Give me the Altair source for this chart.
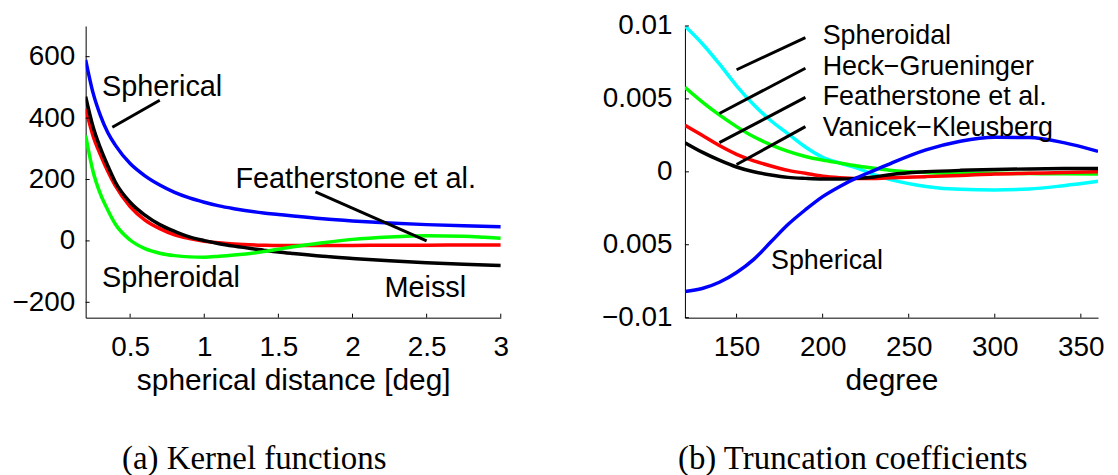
import altair as alt
import pandas as pd

# ---------------- Panel (a): kernel functions ----------------
psi = [0.2, 0.25, 0.3, 0.35, 0.4, 0.5, 0.6, 0.7, 0.8, 0.9, 1.0, 1.1, 1.2, 1.4, 1.5, 1.6, 1.8, 2.0, 2.25, 2.5, 2.75, 3.0]
k_spherical = [590, 482, 408, 352, 312, 252, 212, 182, 158, 140, 126, 114, 105, 91, 86, 81, 72, 65, 58, 53, 49, 46]
k_featherstone = [430, 342, 280, 226, 180, 112, 68, 40, 20, 8, -1, -6, -10, -14, -15, -15, -15, -15, -14, -14, -13, -13]
k_meissl = [470, 372, 302, 244, 192, 126, 84, 53, 31, 13, 1, -9, -17, -30, -36, -41, -50, -57, -65, -71, -76, -80]
k_spheroidal = [343, 226, 152, 100, 55, 3, -25, -40, -48, -52, -53, -50, -46, -35, -27, -19, -6, 5, 13, 17, 15, 9]

xticks_a = [0.5, 1, 1.5, 2, 2.5, 3]
yticks_a = [-200, 0, 200, 400, 600]

labels_a = ["Spherical", "Featherstone et al.", "Spheroidal", "Meissl"]
labels_a_x = [0.31, 1.21, 0.31, 2.215]
labels_a_y = [500, 200, -121, -152]
pointer_a_x1 = [0.38, 1.75]
pointer_a_y1 = [370, 160]
pointer_a_x2 = [0.70, 2.5]
pointer_a_y2 = [458, 0]

# ---------------- Panel (b): truncation coefficients ----------------
deg = [120, 130, 140, 150, 160, 170, 180, 190, 200, 210, 220, 230, 240, 260, 280, 300, 320, 340, 360]
t_heck = [0.0100, 0.0088, 0.0074, 0.0059, 0.0046, 0.0035, 0.0026, 0.0017, 0.0010, 0.0006, 0.00025,
          -0.0002, -0.00055, -0.0010, -0.0012, -0.00124, -0.00118, -0.00095, -0.00065]
t_spherical = [-0.0082, -0.0080, -0.00757, -0.0069, -0.0060, -0.0048, -0.0036, -0.0026, -0.0017, -0.0010,
               -0.0004, 0.0001, 0.0006, 0.0015, 0.0021, 0.00237, 0.00235, 0.0020, 0.0014]
t_spheroidal = [0.0058, 0.0048, 0.0039, 0.0031, 0.0024, 0.00185, 0.0014, 0.00105, 0.0008, 0.0006, 0.0004,
                0.00025, 0.0001, -0.00004, -0.0001, -0.0001, -0.00012, -0.00014, -0.00015]
t_featherstone = [0.0032, 0.0025, 0.0018, 0.0012, 0.00075, 0.0004, 0.0001, -0.0001, -0.0003, -0.0004,
                  -0.00045, -0.00045, -0.0004, -0.00033, -0.00025, -0.00015, -0.0001, -0.00005, 0.0]
t_vanicek = [0.0020, 0.00135, 0.0008, 0.00033, 0.0, -0.00022, -0.00038, -0.00045, -0.00049, -0.00049,
             -0.00045, -0.00035, -0.00018, 0.0, 0.0001, 0.00016, 0.0002, 0.00022, 0.00022]

xticks_b = [150, 200, 250, 300, 350]
yticks_b = [-0.01, -0.005, 0, 0.005, 0.01]
ytick_labels_b = ["\u22120.01", "0.005", "0", "0.005", "0.01"]

labels_b = ["Spheroidal", "Heck\u2212Grueninger", "Featherstone et al.", "Vanicek\u2212Kleusberg", "Spherical"]
labels_b_x = [200, 200, 200, 200, 170]
labels_b_y = [0.0093, 0.0072, 0.0051, 0.0030, -0.0061]
pointer_b_x1 = [150, 140, 140, 150]
pointer_b_y1 = [0.0070, 0.0040, 0.0020, 0.0005]
pointer_b_x2 = [190, 190, 190, 190]
pointer_b_y2 = [0.0092, 0.0071, 0.0051, 0.0031]

SANS = "Liberation Sans"
SERIF = "Liberation Serif"

W_A, W_B, H = 417, 415, 293

# ---------------- encodings ----------------
axis_xa = alt.Axis(values=xticks_a, format="~g", title="spherical distance [deg]", ticks=False,
                   labelPadding=16, titlePadding=4, grid=False, labelFlush=False)
axis_ya = alt.Axis(values=yticks_a, format="d", title=None, ticks=False, labelPadding=11, grid=False)
scale_xa = alt.Scale(domain=[0.2, 3], nice=False, zero=False)
scale_ya = alt.Scale(domain=[-250, 700], nice=False, zero=False)


def xa(f):
    return alt.X(f, type="quantitative", scale=scale_xa, axis=axis_xa)


def ya(f):
    return alt.Y(f, type="quantitative", scale=scale_ya, axis=axis_ya)


label_expr_b = " : ".join(
    [f"abs(datum.value - ({v})) < 1e-9 ? '{l}'" for v, l in zip(yticks_b, ytick_labels_b)]
) + " : ''"
axis_xb = alt.Axis(values=xticks_b, format="d", title="degree", ticks=False,
                   labelPadding=16, titlePadding=4, grid=False, labelFlush=False)
axis_yb = alt.Axis(values=yticks_b, labelExpr=label_expr_b, title=None, ticks=False, labelPadding=13, grid=False)
scale_xb = alt.Scale(domain=[120, 360], nice=False, zero=False)
scale_yb = alt.Scale(domain=[-0.01, 0.01], nice=False, zero=False)


def xb(f):
    return alt.X(f, type="quantitative", scale=scale_xb, axis=axis_xb)


def yb(f):
    return alt.Y(f, type="quantitative", scale=scale_yb, axis=axis_yb)


def curve(xs, ys, color, xe, ye):
    df = pd.DataFrame({"x": xs, "y": ys})
    return alt.Chart(df).mark_line(color=color, strokeWidth=3.5, interpolate="monotone", clip=True).encode(
        x=xe("x"), y=ye("y"))


def pointers(x1, y1, x2, y2, xe, ye):
    df = pd.DataFrame({"x1": x1, "y1": y1, "x2": x2, "y2": y2})
    return alt.Chart(df).mark_rule(color="black", strokeWidth=3).encode(
        x=xe("x1"), y=ye("y1"), x2=alt.X2("x2"), y2=alt.Y2("y2"))


def labels(txt, xs, ys, xe, ye, size):
    df = pd.DataFrame({"label": txt, "x": xs, "y": ys})
    return alt.Chart(df).mark_text(align="left", baseline="middle", font=SANS, fontSize=size,
                                   color="black").encode(x=xe("x"), y=ye("y"), text="label:N")


def inner_ticks(xt, yt, xe, ye, h):
    tx = alt.Chart(pd.DataFrame({"t": xt})).mark_rule(color="black", strokeWidth=1).encode(
        x=xe("t"), y=alt.value(h), y2=alt.value(h - 4))
    ty = alt.Chart(pd.DataFrame({"t": yt})).mark_rule(color="black", strokeWidth=1).encode(
        y=ye("t"), x=alt.value(0), x2=alt.value(4))
    return [tx, ty]


left = alt.layer(
    curve(psi, k_spherical, "#0000ff", xa, ya),
    curve(psi, k_featherstone, "#ff0000", xa, ya),
    curve(psi, k_meissl, "#000000", xa, ya),
    curve(psi, k_spheroidal, "#00ff00", xa, ya),
    pointers(pointer_a_x1, pointer_a_y1, pointer_a_x2, pointer_a_y2, xa, ya),
    labels(labels_a, labels_a_x, labels_a_y, xa, ya, 29),
    *inner_ticks(xticks_a, yticks_a, xa, ya, H),
).properties(
    width=W_A, height=H,
    title=alt.TitleParams(text="(a) Kernel functions", orient="bottom", anchor="middle", frame="bounds",
                          offset=48, font=SERIF, fontSize=33, fontWeight="normal", color="black", dx=-6),
)

right = alt.layer(
    curve(deg, t_heck, "#00ffff", xb, yb),
    curve(deg, t_spheroidal, "#00ff00", xb, yb),
    curve(deg, t_featherstone, "#ff0000", xb, yb),
    curve(deg, t_vanicek, "#000000", xb, yb),
    curve(deg, t_spherical, "#0000ff", xb, yb),
    pointers(pointer_b_x1, pointer_b_y1, pointer_b_x2, pointer_b_y2, xb, yb),
    labels(labels_b, labels_b_x, labels_b_y, xb, yb, 27),
    *inner_ticks(xticks_b, yticks_b, xb, yb, H),
).properties(
    width=W_B, height=H,
    title=alt.TitleParams(text="(b) Truncation coefficients", orient="bottom", anchor="middle", frame="bounds",
                          offset=48, font=SERIF, fontSize=33, fontWeight="normal", color="black"),
)

chart = alt.hconcat(left, right, spacing=185, bounds="flush").properties(
    padding={"left": 3, "top": 3, "right": 5, "bottom": 0},
    background="white",
).configure_view(stroke=None).configure_axis(
    labelFont=SANS, labelFontSize=28, labelColor="black",
    titleFont=SANS, titleFontSize=30, titleFontWeight="normal", titleColor="black",
    domainColor="black", domainWidth=1,
)

chart.save("out.html", embed_options={"renderer": "svg", "actions": False})
